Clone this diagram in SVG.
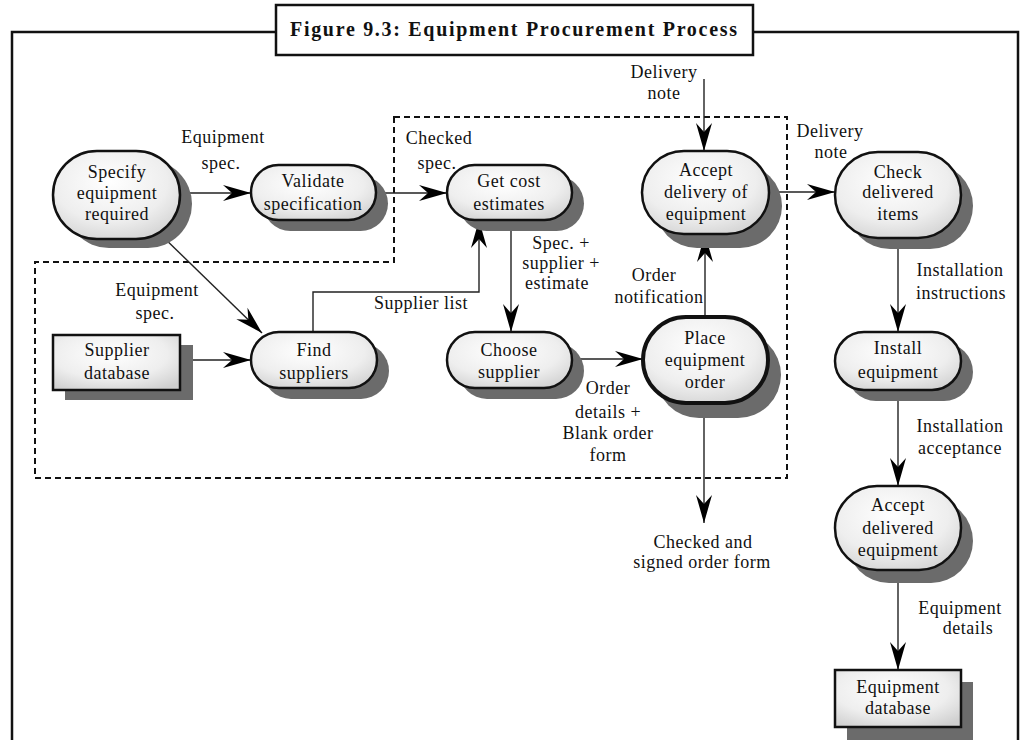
<svg xmlns="http://www.w3.org/2000/svg" width="1031" height="740" viewBox="0 0 1031 740">
<style>
.frame{fill:none;stroke:#111;stroke-width:2.5}
.dash{fill:none;stroke:#111;stroke-width:2;stroke-dasharray:6 4}
.shadow{fill:#6b6b6b}
.node{fill:url(#g);stroke:#111;stroke-width:2.5}
.thick{stroke-width:4}
.conn{fill:none;stroke:#222;stroke-width:1.4}
text{font-family:"Liberation Serif","Times New Roman",serif;font-size:18px;fill:#111;letter-spacing:0.5px;text-anchor:middle}
.title{font-weight:bold;font-size:20px;letter-spacing:1px}
</style>
<defs>
<radialGradient id="g" cx="0.45" cy="0.35" r="0.75">
<stop offset="0" stop-color="#ffffff"/>
<stop offset="0.6" stop-color="#eeeeee"/>
<stop offset="1" stop-color="#cfcfcf"/>
</radialGradient>
<marker id="arr" markerUnits="userSpaceOnUse" markerWidth="32" markerHeight="22" viewBox="-30 -11 32 22" refX="0" refY="0" orient="auto">
<path d="M0,0 L-28,-8 L-19,0 L-28,8 Z" fill="#000"/>
</marker>
</defs>
<rect width="1031" height="740" fill="#fff"/>
<path class="frame" d="M276,32 H12 V740 M753,32 H1018 V740"/>
<g id="title">
<rect x="276" y="5" width="477" height="50" fill="#fff" stroke="#111" stroke-width="2.5"/>
<text class="title" x="514" y="36" textLength="448" lengthAdjust="spacing">Figure 9.3: Equipment Procurement Process</text>
</g>
<path class="dash" d="M394,117 H787 V478 H35 V262 H394 Z"/>
<g id="connectors">
<path class="conn" d="M180,193 H251" marker-end="url(#arr)"/>
<path class="conn" d="M376,193 H447" marker-end="url(#arr)"/>
<path class="conn" d="M158,232 L262,333" marker-end="url(#arr)"/>
<path class="conn" d="M180,360 H251" marker-end="url(#arr)"/>
<path class="conn" d="M313,332 V292 H479 V220" marker-end="url(#arr)"/>
<path class="conn" d="M511,220 V332" marker-end="url(#arr)"/>
<path class="conn" d="M572,359 H643" marker-end="url(#arr)"/>
<path class="conn" d="M705,317 V234" marker-end="url(#arr)"/>
<path class="conn" d="M704,79 V151" marker-end="url(#arr)"/>
<path class="conn" d="M769,192 H835" marker-end="url(#arr)"/>
<path class="conn" d="M898,238 V332" marker-end="url(#arr)"/>
<path class="conn" d="M898,390 V486" marker-end="url(#arr)"/>
<path class="conn" d="M898,570 V670" marker-end="url(#arr)"/>
<path class="conn" d="M704,403 V523" marker-end="url(#arr)"/>
<text x="223" y="143">Equipment</text>
<text x="221" y="169">spec.</text>
<text x="439" y="144">Checked</text>
<text x="437" y="169">spec.</text>
<text x="157" y="296">Equipment</text>
<text x="155" y="319">spec.</text>
<text x="421" y="309">Supplier list</text>
<text x="561" y="249">Spec. +</text>
<text x="561" y="269">supplier +</text>
<text x="557" y="289">estimate</text>
<text x="608" y="394">Order</text>
<text x="608" y="418">details +</text>
<text x="608" y="439">Blank order</text>
<text x="608" y="461">form</text>
<text x="654" y="281">Order</text>
<text x="659" y="303">notification</text>
<text x="664" y="78">Delivery</text>
<text x="664" y="99">note</text>
<text x="830" y="137">Delivery</text>
<text x="831" y="158">note</text>
<text x="960" y="276">Installation</text>
<text x="961" y="299">instructions</text>
<text x="960" y="432">Installation</text>
<text x="960" y="454">acceptance</text>
<text x="960" y="614">Equipment</text>
<text x="968" y="634">details</text>
<text x="703" y="548">Checked and</text>
<text x="702" y="568">signed order form</text>
</g>
<g id="n-specify">
<rect class="shadow" x="65" y="160" width="127" height="88" rx="44"/>
<rect class="node" x="53" y="151" width="127" height="88" rx="44"/>
<text x="117" y="178">Specify</text>
<text x="117" y="199">equipment</text>
<text x="117" y="220">required</text>
</g>
<g id="n-validate">
<rect class="shadow" x="263" y="176" width="125" height="55" rx="27.5"/>
<rect class="node" x="251" y="165" width="125" height="55" rx="27.5"/>
<text x="313" y="187">Validate</text>
<text x="313" y="210">specification</text>
</g>
<g id="n-getcost">
<rect class="shadow" x="459" y="176" width="125" height="55" rx="27.5"/>
<rect class="node" x="447" y="165" width="125" height="55" rx="27.5"/>
<text x="509" y="187">Get cost</text>
<text x="509" y="210">estimates</text>
</g>
<g id="n-acceptdelivery">
<rect class="shadow" x="655" y="164" width="127" height="84" rx="42"/>
<rect class="node" x="642" y="151" width="127" height="83" rx="42"/>
<text x="706" y="176">Accept</text>
<text x="706" y="198">delivery of</text>
<text x="706" y="220">equipment</text>
</g>
<g id="n-check">
<rect class="shadow" x="847" y="163" width="126" height="86" rx="43"/>
<rect class="node" x="835" y="152" width="126" height="86" rx="43"/>
<text x="898" y="178">Check</text>
<text x="898" y="198">delivered</text>
<text x="898" y="220">items</text>
</g>
<g id="n-find">
<rect class="shadow" x="263" y="343" width="126" height="56" rx="28"/>
<rect class="node" x="251" y="332" width="126" height="56" rx="28"/>
<text x="314" y="356">Find</text>
<text x="314" y="379">suppliers</text>
</g>
<g id="n-supplierdb">
<rect class="shadow" x="65" y="345" width="128" height="55"/>
<rect class="node" x="53" y="335" width="127" height="55"/>
<text x="117" y="356">Supplier</text>
<text x="117" y="379">database</text>
</g>
<g id="n-choose">
<rect class="shadow" x="459" y="343" width="125" height="56" rx="28"/>
<rect class="node" x="447" y="332" width="125" height="56" rx="28"/>
<text x="509" y="356">Choose</text>
<text x="509" y="378">supplier</text>
</g>
<g id="n-place">
<rect class="shadow" x="656" y="332" width="125" height="86" rx="43"/>
<rect class="node thick" x="643" y="317" width="125" height="86" rx="43"/>
<text x="705" y="344">Place</text>
<text x="705" y="366">equipment</text>
<text x="705" y="388">order</text>
</g>
<g id="n-install">
<rect class="shadow" x="847" y="343" width="126" height="58" rx="29"/>
<rect class="node" x="835" y="332" width="126" height="58" rx="29"/>
<text x="898" y="354">Install</text>
<text x="898" y="378">equipment</text>
</g>
<g id="n-accepteq">
<rect class="shadow" x="847" y="499" width="126" height="84" rx="42"/>
<rect class="node" x="835" y="486" width="126" height="84" rx="42"/>
<text x="898" y="511">Accept</text>
<text x="898" y="534">delivered</text>
<text x="898" y="556">equipment</text>
</g>
<g id="n-eqdb">
<rect class="shadow" x="847" y="682" width="126" height="60"/>
<rect class="node" x="835" y="670" width="126" height="57"/>
<text x="898" y="693">Equipment</text>
<text x="898" y="714">database</text>
</g>
</svg>
